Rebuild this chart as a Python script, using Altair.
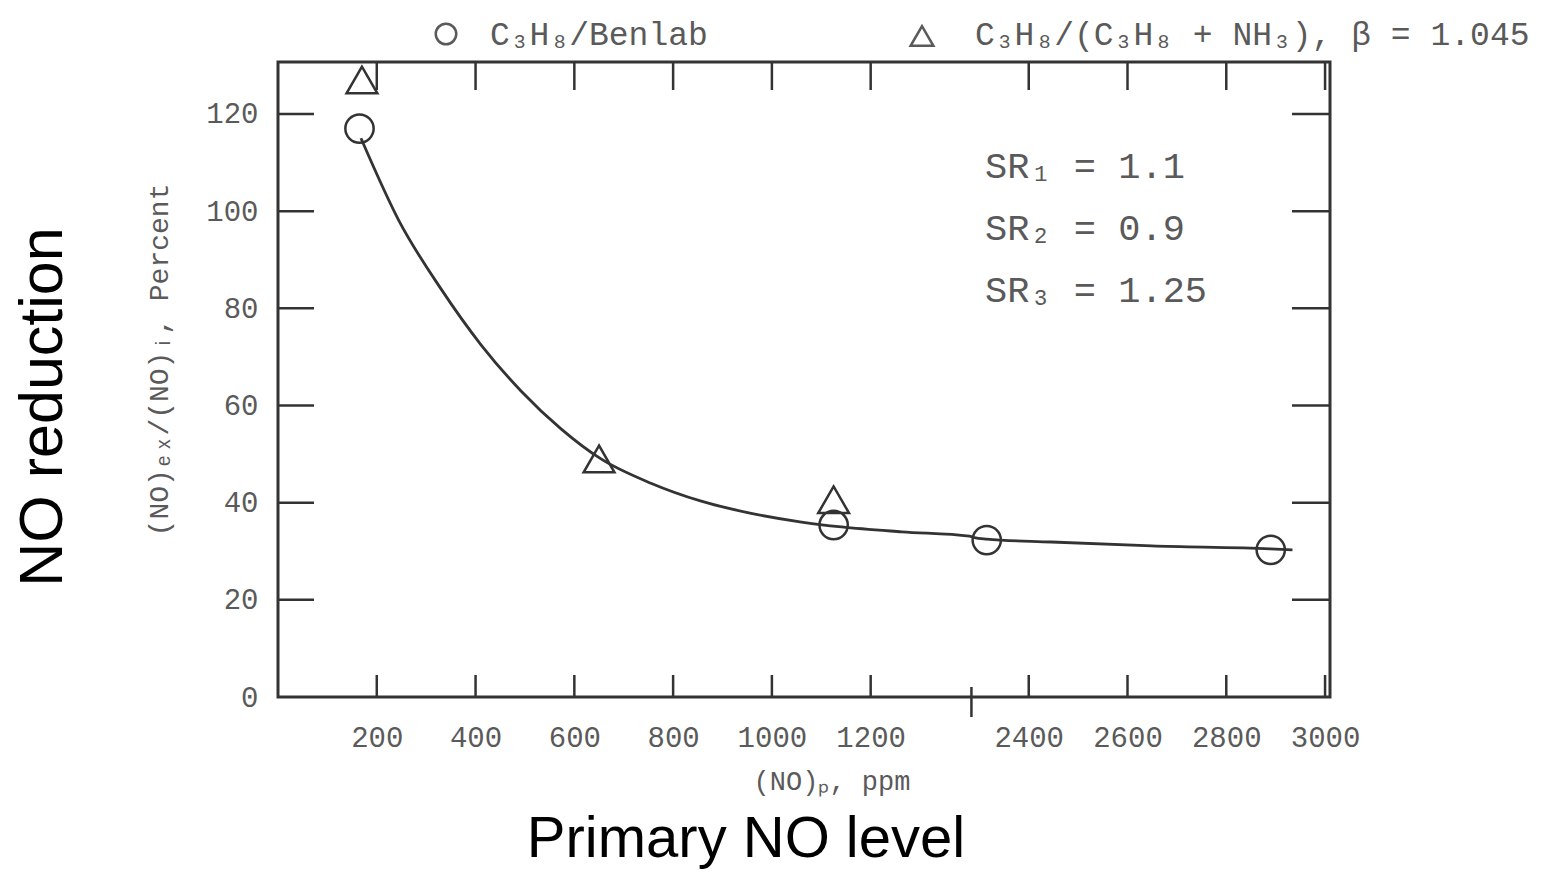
import altair as alt
import pandas as pd

# ---- data (ppm on the broken x axis, percent on y) ----
circle_ppm = [165, 1125, 2315, 2890]
circle_pct = [117.0, 35.4, 32.3, 30.3]
tri_ppm = [170, 650, 1125]
tri_pct = [127.0, 49.0, 40.6]
curve_ppm = [168, 245, 330, 411, 492, 573, 654, 755, 857, 958, 1060, 1141, 1263, 1400,
             2290, 2315, 2446, 2649, 2889, 2934]
curve_pct = [115, 98, 84, 72.5, 63, 55.2, 49, 44, 40.3, 37.8, 36, 35, 34, 33.1,
             32.8, 32.5, 31.9, 31.1, 30.5, 30.3]
x_tick_units = [200, 400, 600, 800, 1000, 1200, 1520, 1720, 1920, 2120]
y_tick_values = [0, 20, 40, 60, 80, 100, 120]
break_unit = [1404]
sr_lines = ["SR₁ = 1.1", "SR₂ = 0.9", "SR₃ = 1.25"]

W, H = 1052, 635
INK = "#333333"
LBL = "#5a5a5a"
MONO = "Liberation Mono"

POS = "datum.ppm < 1800 ? datum.ppm : datum.ppm - 880"

xs = alt.Scale(domain=[0, 2130], nice=False, zero=False)
ys = alt.Scale(domain=[0, 130.7], nice=False, zero=False)
xaxis = alt.Axis(values=x_tick_units, title=None, ticks=False, tickSize=0, domain=False, grid=False,
                 labelFont=MONO, labelFontSize=29, labelColor=LBL, labelPadding=26,
                 labelExpr="datum.value > 1300 ? format(datum.value + 880, 'd') : format(datum.value, 'd')")
yaxis = alt.Axis(values=y_tick_values, title=None, ticks=False, tickSize=0, domain=False, grid=False,
                 labelFont=MONO, labelFontSize=29, labelColor=LBL, labelPadding=20)


def X(field="u"):
    return alt.X(f"{field}:Q", scale=xs, axis=xaxis)


def Y(field="pct"):
    return alt.Y(f"{field}:Q", scale=ys, axis=yaxis)


curve_df = pd.DataFrame({"ppm": curve_ppm, "pct": curve_pct, "o": list(range(len(curve_ppm)))})
circ_df = pd.DataFrame({"ppm": circle_ppm, "pct": circle_pct})
tri_df = pd.DataFrame({"ppm": tri_ppm, "pct": tri_pct})
xt_df = pd.DataFrame({"u": x_tick_units})
yt_df = pd.DataFrame({"pct": y_tick_values[1:]})

curve = alt.Chart(curve_df).transform_calculate(u=POS).mark_line(
    color=INK, strokeWidth=2.8, interpolate="monotone").encode(x=X(), y=Y(), order="o:Q")
circles = alt.Chart(circ_df).transform_calculate(u=POS).mark_point(
    shape="circle", filled=False, size=800, strokeWidth=2.5, color=INK, opacity=1).encode(x=X(), y=Y())
tris = alt.Chart(tri_df).transform_calculate(u=POS).mark_point(
    shape="triangle-up", filled=False, size=950, strokeWidth=2.5, color=INK, opacity=1).encode(x=X(), y=Y())

bottom_ticks = alt.Chart(xt_df).mark_rule(color=INK, strokeWidth=2.5).encode(
    x=X(), y=alt.value(H - 22), y2=alt.value(H))
top_ticks = alt.Chart(xt_df).mark_rule(color=INK, strokeWidth=2.5).encode(
    x=X(), y=alt.value(0), y2=alt.value(28))
left_ticks = alt.Chart(yt_df).mark_rule(color=INK, strokeWidth=2.5).encode(
    y=Y(), x=alt.value(0), x2=alt.value(36))
right_ticks = alt.Chart(yt_df).mark_rule(color=INK, strokeWidth=2.5).encode(
    y=Y(), x=alt.value(W - 38), x2=alt.value(W))
brk = alt.Chart(pd.DataFrame({"u": break_unit})).mark_rule(color=INK, strokeWidth=2.5).encode(
    x=X(), y=alt.value(H - 10), y2=alt.value(H + 20))


def txt(s, x, y, size, font=MONO, color=LBL, angle=0, align="left", baseline="middle"):
    kw = dict(fontSize=size, font=font, color=color, align=align, baseline=baseline)
    if angle:
        kw["angle"] = angle
    return alt.Chart(pd.DataFrame({"t": [s]})).mark_text(**kw).encode(
        text="t:N", x=alt.value(x), y=alt.value(y))


# legend at top
leg_c = alt.Chart(pd.DataFrame({"t": ["c"]})).mark_point(
    shape="circle", filled=False, size=420, strokeWidth=2.5, color=LBL, opacity=1).encode(
    x=alt.value(168), y=alt.value(-28))
leg_t = alt.Chart(pd.DataFrame({"t": ["t"]})).mark_point(
    shape="triangle-up", filled=False, size=520, strokeWidth=2.5, color=LBL, opacity=1).encode(
    x=alt.value(644), y=alt.value(-26))
leg1 = txt("C₃H₈/Benlab", 212, -27, 33)
leg2 = txt("C₃H₈/(C₃H₈ + NH₃), β = 1.045", 697, -27, 33)

sr = [txt(s, 707, 105 + i * 62, 37) for i, s in enumerate(sr_lines)]

inner_y = txt("(NO)ₑₓ/(NO)ᵢ,  Percent", -118, 298, 28, angle=270, align="center")
inner_x = txt("(NO)ₚ,  ppm", 554, 720, 27, align="center")

big_x = txt("Primary NO level", 468, 778, 58, font="Liberation Sans", color="#000000",
            align="center")
big_y = txt("NO reduction", -234, 345, 61, font="Liberation Sans", color="#000000",
            angle=270, align="center")

chart = alt.layer(
    curve, circles, tris, bottom_ticks, top_ticks, left_ticks, right_ticks, brk,
    leg_c, leg_t, leg1, leg2, *sr, inner_y, inner_x, big_x, big_y
).properties(
    width=W, height=H,
    padding={"left": 270, "top": 54, "right": 216, "bottom": 176},
    autosize=alt.AutoSizeParams(type="none"),
    background="white",
).configure_view(stroke=INK, strokeWidth=3)

chart.save("out.html", embed_options={"renderer": "svg", "actions": False})
